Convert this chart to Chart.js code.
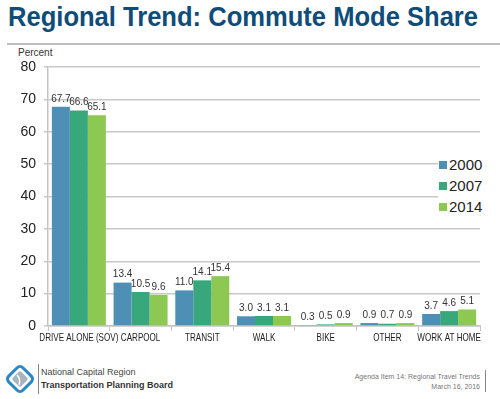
<!DOCTYPE html>
<html>
<head>
<meta charset="utf-8">
<script src="https://cdn.jsdelivr.net/npm/chart.js@4"></script>
<style>
  body { margin: 0; width: 500px; height: 399px; background: #fff; position: relative; overflow: hidden; font-family: 'Liberation Sans', Arial, sans-serif; }
  #title { position: absolute; left: 8px; top: 1px; font-size: 28px; font-weight: bold; color: #0f4d78; white-space: nowrap; transform-origin: 0 0; }
  #rule { position: absolute; left: 7px; top: 43px; width: 493px; height: 2px; background: #bdbdbd; }
  #unit { position: absolute; left: 18px; top: 47px; font-size: 10px; color: #333; }
  #wrap { position: absolute; left: 0; top: 45px; width: 500px; height: 310px; }
  #legend { position: absolute; left: 438px; top: 154px; background: #fff; padding: 0 4px 0 1px; }
  .item { height: 21px; display: flex; align-items: center; font-size: 15px; color: #222; }
  .sw { width: 8px; height: 8px; margin-right: 2px; }
  #logo { position: absolute; left: 4px; top: 363px; }
  #vline1 { position: absolute; left: 38px; top: 364px; width: 1px; height: 30px; background: #888; }
  #org1 { position: absolute; left: 41px; top: 367px; font-size: 9px; color: #444; }
  #org2 { position: absolute; left: 41px; top: 380px; font-size: 9px; font-weight: bold; color: #333; }
  #agenda { position: absolute; right: 20px; top: 372px; font-size: 7px; color: #777; text-align: right; line-height: 10px; }
  #vline2 { position: absolute; left: 485px; top: 370px; width: 1px; height: 22px; background: #888; }
</style>
</head>
<body>
<div id="title">Regional Trend: Commute Mode Share</div>
<div id="rule"></div>
<div id="unit">Percent</div>
<div id="wrap"><canvas id="modeChart"></canvas></div>
<div id="legend"></div>
<svg id="logo" width="32" height="32" viewBox="0 0 32 32">
  <rect x="6" y="6" width="20" height="20" rx="4" transform="rotate(45 16 16)" fill="none" stroke="#2a86c4" stroke-width="3"/>
  <rect x="10" y="10" width="12" height="12" rx="2" transform="rotate(45 16 16)" fill="#a9b4bd"/>
  <path d="M13 12 Q17 16 15 22" stroke="#fff" stroke-width="1.5" fill="none"/>
</svg>
<div id="vline1"></div>
<div id="org1">National Capital Region</div>
<div id="org2">Transportation Planning Board</div>
<div id="agenda">Agenda Item 14: Regional Travel Trends<br>March 16, 2016</div>
<div id="vline2"></div>
<script>
const categories = ['DRIVE ALONE (SOV)', 'CARPOOL', 'TRANSIT', 'WALK', 'BIKE', 'OTHER', 'WORK AT HOME'];
const years = ['2000', '2007', '2014'];
const share2000 = [67.7, 13.4, 11.0, 3.0, 0.3, 0.9, 3.7];
const share2007 = [66.6, 10.5, 14.1, 3.1, 0.5, 0.7, 4.6];
const share2014 = [65.1, 9.6, 15.4, 3.1, 0.9, 0.9, 5.1];
const yTicks = [0, 10, 20, 30, 40, 50, 60, 70, 80];

const colors = ['#4e8fb6', '#39a77c', '#8dc852'];

// fit title width to the slide
const title = document.getElementById('title');
const tw = title.getBoundingClientRect().width;
title.style.transform = 'scaleX(' + (470 / tw) + ')';

// legend
const legend = document.getElementById('legend');
years.forEach((y, i) => {
  legend.innerHTML += `<div class="item"><span class="sw" style="background:${colors[i]}"></span>${y}</div>`;
});

const valueLabels = {
  id: 'valueLabels',
  afterDatasetsDraw(chart) {
    const c = chart.ctx;
    c.save();
    c.font = '10px "Liberation Sans", Arial, sans-serif';
    c.fillStyle = '#333';
    c.textAlign = 'center';
    c.textBaseline = 'bottom';
    chart.data.datasets.forEach((ds, i) => {
      chart.getDatasetMeta(i).data.forEach((bar, j) => {
        c.fillText(ds.data[j].toFixed(1), bar.x, bar.y - 3);
      });
    });
    c.restore();
  }
};

// condensed category labels, placed at the x scale's tick positions
const narrowLabels = {
  id: 'narrowLabels',
  afterDraw(chart) {
    const c = chart.ctx;
    const x = chart.scales.x;
    c.save();
    c.font = '10.5px "Liberation Sans", Arial, sans-serif';
    c.fillStyle = '#222';
    c.textBaseline = 'middle';
    c.textAlign = 'center';
    const k = 79 / c.measureText(categories[0]).width;
    categories.forEach((lab, i) => {
      c.save();
      c.translate(x.getPixelForTick(i), x.bottom - 17);
      c.scale(k, 1);
      c.fillText(lab, 0, 0);
      c.restore();
    });
    c.restore();
  }
};

new Chart(document.getElementById('modeChart'), {
  type: 'bar',
  data: {
    labels: categories,
    datasets: [
      { label: years[0], data: share2000, backgroundColor: colors[0] },
      { label: years[1], data: share2007, backgroundColor: colors[1] },
      { label: years[2], data: share2014, backgroundColor: colors[2] }
    ]
  },
  options: {
    responsive: true,
    maintainAspectRatio: false,
    animation: false,
    layout: { padding: { top: 22, right: 20, left: 0, bottom: 0 } },
    datasets: { bar: { categoryPercentage: 0.875, barPercentage: 1.0 } },
    plugins: { legend: { display: false }, tooltip: { enabled: false } },
    scales: {
      x: {
        grid: { drawOnChartArea: false, drawTicks: true, tickLength: 5, color: '#c4c4c4' },
        border: { color: '#c4c4c4', width: 1.5 },
        ticks: { display: false },
        afterFit(s) { s.height = 29; }
      },
      y: {
        min: 0, max: 80,
        afterBuildTicks(s) { s.ticks = yTicks.map(v => ({ value: v })); },
        grid: { color: '#c8c8c8', lineWidth: 1.5, tickLength: 4 },
        border: { color: '#c4c4c4', width: 1.5 },
        ticks: { color: '#222', font: { size: 14, family: 'Liberation Sans' }, padding: 8 },
        afterFit(s) { s.width = 48; }
      }
    }
  },
  plugins: [valueLabels, narrowLabels]
});
</script>
</body>
</html>
